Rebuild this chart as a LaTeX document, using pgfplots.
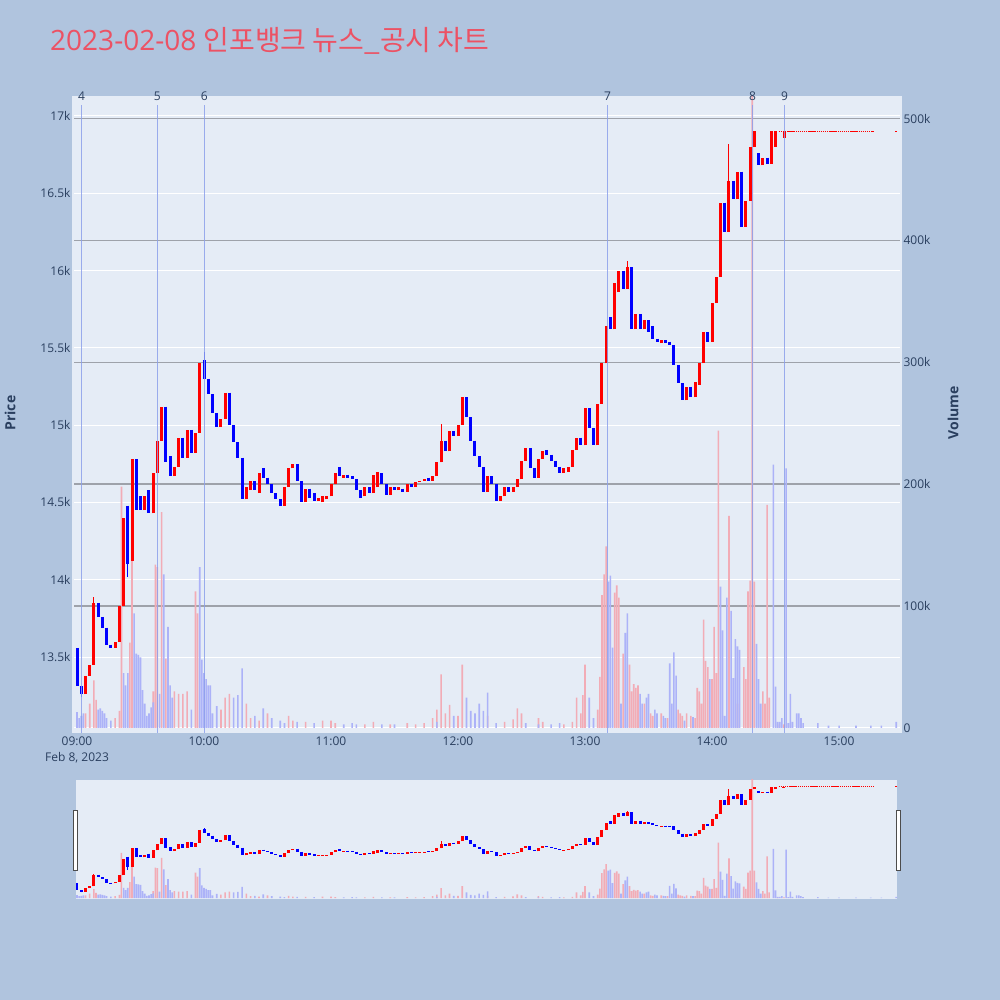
\documentclass[border=0pt]{standalone}
\usepackage{fontspec}
\setmainfont{Open Sans}
\newfontfamily\kr{Noto Sans CJK KR}
\usepackage{pgfplots}
\usepackage{pgfplotstable}
\pgfplotsset{compat=1.18}
\definecolor{pagebg}{RGB}{176,196,222}
\definecolor{plotbg}{RGB}{229,236,246}
\definecolor{tickc}{RGB}{42,63,95}
\definecolor{titlec}{RGB}{236,82,100}
\definecolor{volgrid}{RGB}{158,162,170}
\definecolor{vred}{RGB}{242,172,182}
\definecolor{vblue}{RGB}{172,178,248}
\definecolor{evline}{RGB}{140,160,235}

\pgfplotstableread{
t o c
4 13260 13380
6 13380 13450
8 13450 13850
18 13560 13600
20 13600 13830
22 13830 14400
26 14120 14780
32 14450 14540
36 14430 14690
38 14690 14900
40 14900 15120
46 14670 14730
48 14730 14920
52 14790 14970
56 14820 14950
58 14950 15400
68 14990 15040
70 15040 15210
80 14520 14600
82 14580 14640
86 14560 14690
98 14480 14600
100 14600 14720
102 14720 14750
108 14500 14590
114 14510 14530
116 14500 14540
118 14520 14540
120 14540 14620
122 14620 14690
126 14660 14680
136 14540 14600
140 14560 14680
142 14600 14700
148 14550 14600
152 14580 14600
156 14570 14620
160 14600 14630
162 14630 14640
164 14640 14650
168 14640 14670
170 14670 14760
172 14760 14900
176 14830 14960
180 14930 15000
182 15000 15180
194 14570 14670
200 14510 14540
202 14540 14600
206 14570 14600
208 14600 14650
210 14650 14770
212 14770 14850
218 14660 14780
220 14780 14830
230 14690 14720
232 14700 14730
234 14730 14840
236 14840 14920
240 14870 15110
246 14870 15140
248 15140 15400
250 15400 15640
254 15620 15920
256 15860 16000
260 15880 16020
264 15620 15720
268 15620 15680
276 15530 15550
288 15160 15250
292 15180 15280
294 15260 15400
296 15400 15600
300 15540 15790
302 15790 15960
304 15960 16440
308 16250 16580
312 16460 16640
316 16280 16450
318 16450 16800
320 16800 16900
324 16680 16730
328 16690 16900
330 16800 16900
334 16860 16900
}\candleup

\pgfplotstableread{
t o c
0 13560 13310
2 13310 13260
10 13850 13760
12 13760 13690
14 13690 13580
16 13580 13560
24 14480 14100
28 14780 14450
30 14540 14450
34 14580 14430
42 15120 14760
44 14800 14670
50 14920 14790
54 14970 14820
60 15420 15300
62 15300 15200
64 15200 15080
66 15080 14990
72 15210 15000
74 15000 14890
76 14890 14790
78 14790 14520
84 14640 14580
88 14720 14660
90 14660 14620
92 14620 14560
94 14560 14520
96 14520 14480
104 14750 14640
106 14640 14500
110 14590 14530
112 14560 14510
124 14730 14670
128 14680 14660
130 14670 14650
132 14650 14580
134 14580 14530
138 14600 14560
144 14690 14620
146 14620 14550
150 14600 14580
154 14590 14570
158 14620 14600
166 14660 14640
174 14900 14830
178 14960 14930
184 15180 15050
186 15050 14900
188 14900 14800
190 14800 14730
192 14730 14570
196 14670 14620
198 14620 14510
204 14600 14570
214 14850 14720
216 14720 14660
222 14840 14810
224 14810 14770
226 14770 14730
228 14730 14690
238 14920 14870
242 15110 14980
244 14980 14870
252 15700 15620
258 16000 15880
262 16020 15620
266 15720 15620
270 15680 15600
272 15640 15560
274 15560 15540
278 15550 15530
280 15540 15520
282 15520 15390
284 15390 15270
286 15270 15160
290 15250 15180
298 15600 15540
306 16440 16250
310 16580 16460
314 16640 16280
322 16760 16680
326 16730 16690
}\candledn

\pgfplotstableread{
t l h
8 13450 13890
172 14760 15010
260 15880 16060
308 16250 16820
}\wickup

\pgfplotstableread{
t l h
2 13240 13310
24 14020 14480
60 15300 15475
}\wickdn

\pgfplotstableread{
t v
4 12
6 20
8 39
9 23
18 8
20 14
21 198
25 70
26 138
36 30
37 134
38 132
40 177
42 57
46 30
48 28
50 28
52 30
56 112
57 94
68 15
70 25
72 28
80 20
82 8
86 6
90 12
100 10
102 6
108 5
116 6
120 6
122 4
136 3
140 5
148 3
156 4
160 3
164 4
168 8
170 15
172 44
174 12
176 19
180 10
182 52
194 10
202 5
206 7
208 16
210 12
218 8
220 5
230 3
234 5
236 25
238 12
239 27
240 52
246 15
247 42
248 109
249 126
250 149
254 111
255 117
256 107
258 61
261 52
262 30
263 36
264 33
265 35
268 20
271 12
272 10
276 12
279 8
284 15
285 12
286 10
288 12
290 10
292 8
293 33
294 30
295 20
296 89
297 55
298 50
300 40
301 83
302 45
303 244
308 174
312 20
315 50
316 40
317 112
318 121
319 600
320 120
324 30
325 20
326 183
327 25
331 3
334 3
}\volred

\pgfplotstableread{
t v
0 13
1 8
2 10
3 12
10 15
11 16
12 14
13 12
14 8
16 6
22 45
23 35
24 45
27 94
28 61
29 60
30 58
31 31
32 20
33 10
34 12
35 17
36 21
39 28
41 126
43 83
44 35
45 25
54 15
58 132
59 56
60 45
61 40
62 35
63 35
64 12
66 18
74 25
76 27
78 49
84 10
88 16
92 8
96 6
98 4
104 5
112 4
126 3
130 4
132 3
144 3
150 3
170 5
178 10
184 25
186 14
188 12
190 20
192 14
194 29
198 4
212 4
218 3
224 3
228 4
242 25
244 8
251 120
252 125
253 66
257 20
259 78
260 94
266 28
267 20
269 25
270 28
273 15
274 12
277 10
278 8
280 53
281 20
282 62
283 43
287 6
291 9
299 40
304 116
305 80
306 10
307 107
309 96
310 41
311 73
312 67
313 64
321 69
322 40
323 20
329 216
330 34
331 5
332 5
333 8
335 213
336 4
337 28
338 5
340 12
341 12
342 8
343 4
350 4
355 2
360 2
368 2
375 2
380 2
387 5
}\volblue

\newcommand\volplots{%
  \addplot[ybar, bar shift=0pt, bar width=1.6bp, fill=vred, draw=none] table[x=t,y=v]{\volred};
  \addplot[ybar, bar shift=0pt, bar width=1.6bp, fill=vblue, draw=none] table[x=t,y=v]{\volblue};
}
\newcommand\candleplots{%
  \addplot[draw=red, line width=1bp, mark=none, quiver={u=0, v=\thisrow{h}-\thisrow{l}}] table[x=t,y=l]{\wickup};
  \addplot[draw=blue, line width=1bp, mark=none, quiver={u=0, v=\thisrow{h}-\thisrow{l}}] table[x=t,y=l]{\wickdn};
  \addplot[draw=red, line width=3bp, mark=none, quiver={u=0, v=\thisrow{c}-\thisrow{o}}] table[x=t,y=o]{\candleup};
  \addplot[draw=blue, line width=3bp, mark=none, quiver={u=0, v=\thisrow{c}-\thisrow{o}}] table[x=t,y=o]{\candledn};
  \addplot[draw=red, line width=1.3bp, dash pattern=on 1.4bp off 0.7bp] coordinates {(331.5,16900) (376.5,16900)};
  \addplot[draw=red, line width=1.3bp] coordinates {(386.6,16900) (387.4,16900)};
}

\newcommand\evt[2]{%
  \draw[evline, line width=1bp, opacity=0.85] (axis cs:#1,13009) -- (axis cs:#1,17071);
  \node[font=\fontsize{12bp}{14bp}\selectfont, text=tickc, inner sep=0pt] at (axis cs:#1,17129) {#2};
}

\pgfplotsset{
  mainbase/.style={scale only axis, width=826bp, height=637bp, at={(74bp,267bp)}, anchor=south west,
    xmin=-1.42, xmax=388.8, axis line style={draw=none}, major tick length=0pt, minor tick num=0,
    scaled y ticks=false, scaled x ticks=false,
    ticklabel style={font=\fontsize{12bp}{14bp}\selectfont, text=tickc},
    /pgf/number format/assume math mode=true},
  slidebase/.style={scale only axis, width=821bp, height=119bp, at={(76bp,101bp)}, anchor=south west,
    xmin=-0.47, xmax=387.4, hide axis},
}

\begin{document}
\begin{tikzpicture}[x=1bp,y=1bp]
\fill[pagebg] (0,0) rectangle (1000,1000);
\path[use as bounding box] (0,0) rectangle (1000,1000);
\fill[plotbg] (72,267) rectangle (902,904);
\fill[plotbg] (76,101) rectangle (897,220);

\node[anchor=base west, text=titlec, font=\fontsize{28bp}{32bp}\selectfont, inner sep=0pt] at (50,949.5) {2023-02-08 {\kr 인포뱅크 뉴스\_공시 차트}};

% price axis: grid and labels
\begin{axis}[mainbase, ymin=13009, ymax=17129,
  ymajorgrids, grid style={white, line width=1bp},
  ytick={13500,14000,14500,15000,15500,16000,16500,17000},
  yticklabels={13.5k,14k,14.5k,15k,15.5k,16k,16.5k,17k},
  xtick={0,60,120,180,240,300,360},
  xticklabels={09:00,10:00,11:00,12:00,13:00,14:00,15:00}]
\end{axis}

% volume axis
\begin{axis}[mainbase, ymin=-4.1, ymax=518.5, xtick=\empty,
  yticklabel pos=right,
  ytick={100,200,300,400,500},
  yticklabels={100k,200k,300k,400k,500k},
  ymajorgrids, grid style={volgrid, line width=1.5bp},
  extra y ticks={0}, extra y tick labels={0},
  extra y tick style={grid=major, major grid style={white, line width=1bp}}]
\volplots
\end{axis}

% candles and events
\begin{axis}[mainbase, ymin=13009, ymax=17129, hide axis, clip mode=individual]
\candleplots
\evt{2.2}{4}
\evt{37.9}{5}
\evt{60.1}{6}
\evt{250.6}{7}
\evt{319.1}{8}
\evt{334.2}{9}
\end{axis}

\node[font=\fontsize{12bp}{14bp}\selectfont, text=tickc] at (77,242) {Feb 8, 2023};
\node[font=\bfseries\fontsize{14bp}{16bp}\selectfont, text=tickc, rotate=90] at (10,587) {Price};
\node[font=\bfseries\fontsize{14bp}{16bp}\selectfont, text=tickc, rotate=90] at (953,587) {Volume};

% range slider
\begin{axis}[slidebase, ymin=-4.1, ymax=518.5]
\volplots
\end{axis}
\begin{axis}[slidebase, ymin=13009, ymax=17129]
\candleplots
\end{axis}
\filldraw[fill=white, draw=black!70, line width=0.8bp] (73.5,130) rectangle (77,189.5);
\filldraw[fill=white, draw=black!70, line width=0.8bp] (896.5,130) rectangle (900,189.5);
\end{tikzpicture}
\end{document}
